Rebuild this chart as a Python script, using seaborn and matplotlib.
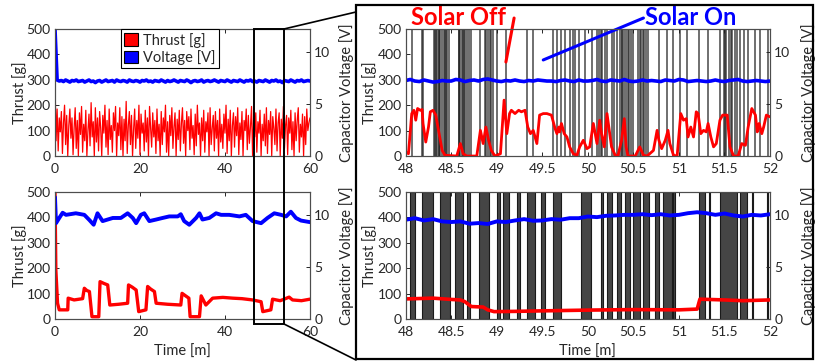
import numpy as np
import matplotlib
matplotlib.use("Agg")
import matplotlib.pyplot as plt
import seaborn as sns
from matplotlib.patches import Rectangle, Patch
from matplotlib.lines import Line2D

# ---- top left: solar off, full 60 min (thrust sampled every 0.25 min, voltage every 0.5 min)
tl_thrust_step = 0.25
tl_thrust = [
    300, 60, 185, 20, 150, 95, 175, 10, 130, 200, 45, 160, 0, 120, 185, 70, 150, 5, 110, 190,
    30, 140, 0, 170, 85, 195, 15, 125, 60, 180, 0, 100, 165, 40, 210, 75, 135, 0, 190, 55,
    150, 20, 175, 110, 0, 160, 90, 200, 35, 140, 5, 185, 65, 120, 15, 170, 100, 195, 0, 130,
    80, 190, 25, 155, 0, 145, 60, 215, 10, 120, 175, 45, 160, 0, 105, 185, 30, 140, 70, 200,
    5, 165, 90, 130, 20, 180, 55, 150, 0, 195, 110, 35, 170, 75, 140, 10, 185, 60, 125, 0,
    175, 45, 150, 95, 200, 15, 135, 0, 160, 80, 190, 30, 115, 170, 0, 145, 65, 180, 20, 130,
    190, 50, 140, 0, 175, 100, 155, 25, 185, 70, 120, 5, 165, 40, 200, 85, 130, 0, 150, 60,
    180, 15, 135, 95, 170, 0, 190, 45, 110, 160, 20, 175, 70, 140, 0, 185, 55, 125, 30, 165,
    90, 200, 10, 145, 60, 180, 0, 120, 170, 35, 155, 80, 190, 5, 130, 65, 175, 0, 140, 100,
    185, 25, 160, 50, 115, 195, 0, 150, 75, 170, 15, 135, 90, 180, 0, 125, 60, 165, 40, 190,
    10, 140, 85, 175, 0, 155, 110, 45, 185, 20, 130, 170, 0, 145, 70, 195, 30, 120, 160, 5,
    150, 90, 180, 25, 135, 0, 170, 60, 140, 190, 15, 125, 75, 165, 0, 155, 45, 185, 100, 130,
    150,
]
tl_volt_step = 0.5
tl_volt = [
    12.2, 7.3, 7.2, 7.25, 7.15, 7.3, 7.2, 7.1, 7.25, 7.2, 7.3, 7.15, 7.2, 7.25, 7.1, 7.2, 7.3, 7.15, 7.2, 7.05,
    7.2, 7.25, 7.1, 7.2, 7.3, 7.15, 7.2, 7.25, 7.1, 7.3, 7.2, 7.15, 7.25, 7.2, 7.1, 7.3, 7.2, 7.15, 7.25, 7.2,
    7.1, 7.25, 7.2, 7.3, 7.15, 7.2, 7.1, 7.25, 7.2, 7.15, 7.3, 7.2, 7.1, 7.25, 7.15, 7.2, 7.3, 7.2, 7.1, 7.25,
    7.2, 7.15, 7.3, 7.2, 7.05, 7.2, 7.25, 7.15, 7.2, 7.3, 7.1, 7.2, 7.25, 7.15, 7.2, 7.3, 7.2, 7.1, 7.25, 7.2,
    7.15, 7.3, 7.2, 7.1, 7.25, 7.2, 7.15, 7.3, 7.2, 7.1, 7.25, 7.2, 7.3, 7.15, 7.2, 7.1, 7.25, 7.2, 7.15, 7.3,
    7.2, 7.1, 7.25, 7.2, 7.3, 7.15, 7.2, 7.05, 7.25, 7.2, 7.15, 7.3, 7.2, 7.1, 7.25, 7.2, 7.3, 7.15, 7.2, 7.25,
    7.2,
]

# ---- bottom left: solar on, full 60 min
bl_thrust_t = [0, 0.2, 0.6, 1.0, 3.0, 3.1, 4.5, 6.5, 6.9, 7.5, 8.1, 8.7, 10.3, 10.6, 11.5,
               12.4, 12.9, 15.0, 17.1, 17.3, 18.2, 19.1, 19.7, 21.4, 21.8, 22.5, 23.4, 23.8, 26.5, 29.6,
               29.9, 31.5, 31.8, 34.0, 34.4, 35.5, 37.1, 39.5, 41.8, 44.0, 46.5, 48.5, 48.9, 50.8, 51.2,
               53.0, 55.1, 55.9, 58.0, 60.0]
bl_thrust = [500, 193, 62, 36, 36, 82, 75, 80, 121, 112, 108, 9, 9, 147, 140,
             134, 55, 58, 62, 134, 125, 114, 29, 36, 128, 118, 108, 62, 58, 55,
             101, 82, 9, 9, 91, 55, 82, 85, 82, 80, 75, 68, 29, 36, 78,
             72, 86, 75, 72, 78]
bl_volt_t = [0, 0.24, 1.0, 1.8, 2.6, 4.9, 6.9, 8.1, 9.1, 10.0, 11.2, 12.4, 13.6, 15.5, 17.1,
             18.3, 19.1, 20.2, 21.0, 22.2, 23.8, 25.3, 26.9, 28.9, 29.6, 30.4, 31.6, 33.2, 34.0, 34.7,
             36.3, 37.9, 39.1, 41.0, 43.4, 44.9, 46.5, 48.5, 50.0, 51.6, 53.2, 54.4, 55.5, 56.7, 57.9, 60.0]
bl_volt = [11.7, 9.2, 9.7, 10.2, 10.0, 10.15, 10.0, 9.5, 9.05, 10.15, 9.4, 9.55, 9.7, 9.7, 10.15,
           9.7, 9.2, 10.0, 10.15, 9.4, 9.55, 9.7, 9.85, 9.85, 10.06, 9.4, 9.05, 9.7, 10.15, 9.55,
           9.7, 10.15, 10.0, 10.0, 9.85, 10.0, 9.4, 9.2, 9.7, 10.15, 10.0, 9.85, 10.3, 9.7, 9.45, 9.3]

# ---- top right: solar off, zoom 48-52 min
tr_thrust_t = [48.00, 48.03, 48.066, 48.09, 48.11, 48.13, 48.16, 48.18, 48.19, 48.22, 48.25, 48.27,
               48.30, 48.33, 48.36, 48.40, 48.43, 48.56, 48.60, 48.63, 48.67, 48.78, 48.82, 48.85,
               48.88, 48.91, 48.94, 48.98, 49.04, 49.08, 49.11, 49.14, 49.16, 49.20, 49.24, 49.27,
               49.31, 49.34, 49.37, 49.40, 49.44, 49.47, 49.51, 49.55, 49.60, 49.64, 49.66, 49.68,
               49.69, 49.71, 49.74, 49.77, 49.80, 49.84, 49.88, 49.91, 49.95, 49.99, 50.02, 50.06,
               50.10, 50.13, 50.15, 50.18, 50.21, 50.24, 50.26, 50.30, 50.33, 50.37, 50.40, 50.42,
               50.44, 50.52, 50.57, 50.61, 50.65, 50.72, 50.76, 50.78, 50.81, 50.85, 50.88, 50.90,
               50.94, 50.98, 51.02, 51.05, 51.08, 51.10, 51.13, 51.16, 51.19, 51.21, 51.24, 51.27,
               51.30, 51.32, 51.35, 51.38, 51.41, 51.45, 51.48, 51.51, 51.53, 51.56, 51.60, 51.65,
               51.69, 51.73, 51.76, 51.80, 51.84, 51.86, 51.88, 51.91, 51.93, 51.96, 52.00]
tr_thrust = [16, 9, 167, 180, 141, 187, 180, 183, 128, 55, 114, 174,
             180, 161, 101, 22, 3, 0, 49, 9, 0, 0, 101, 49,
             114, 62, 22, 0, 9, 220, 88, 167, 180, 167, 180, 174,
             180, 114, 88, 101, 49, 161, 167, 167, 161, 108, 88, 114,
             95, 128, 88, 75, 36, 9, 3, 36, 62, 29, 36, 128,
             49, 141, 88, 36, 167, 88, 36, 3, 0, 62, 147, 36,
             0, 0, 36, 3, 0, 22, 101, 62, 29, 62, 101, 49,
             3, 0, 167, 141, 147, 75, 114, 75, 174, 167, 88, 101,
             95, 128, 75, 36, 49, 141, 161, 161, 161, 36, 0, 0,
             49, 42, 114, 187, 161, 95, 128, 88, 114, 161, 154]
tr_volt_step = 0.05
tr_volt = [
    7.25, 7.35, 7.2, 7.15, 7.3, 7.2, 7.1, 7.15, 7.25, 7.2, 7.2, 7.35, 7.3, 7.15, 7.25, 7.3, 7.2, 7.35, 7.4, 7.3,
    7.2, 7.15, 7.25, 7.2, 7.3, 7.2, 7.15, 7.25, 7.2, 7.3, 7.25, 7.2, 7.2, 7.15, 7.25, 7.3, 7.2, 7.15, 7.3, 7.2,
    7.2, 7.25, 7.35, 7.2, 7.15, 7.3, 7.25, 7.2, 7.35, 7.2, 7.15, 7.2, 7.3, 7.2, 7.25, 7.2, 7.15, 7.3, 7.25, 7.2,
    7.35, 7.3, 7.15, 7.2, 7.25, 7.2, 7.15, 7.2, 7.3, 7.2, 7.15, 7.25, 7.3, 7.35, 7.2, 7.15, 7.2, 7.25, 7.2, 7.15,
    7.2,
]
# switching events (solar off)
tr_events = [48.066, 48.176, 48.19, 48.31, 48.32, 48.33, 48.345, 48.36, 48.37, 48.38, 48.40, 48.415,
             48.43, 48.44, 48.45, 48.47, 48.58, 48.59, 48.60, 48.615, 48.63, 48.64, 48.65, 48.67,
             48.69, 48.72, 48.82, 48.87, 48.885, 48.90, 48.92, 48.94, 48.96, 49.0, 49.10, 49.33,
             49.40, 49.62, 49.66, 49.71, 49.75, 49.80, 49.84, 49.86, 49.90, 49.97, 50.04, 50.10,
             50.12, 50.14, 50.16, 50.19, 50.21, 50.26, 50.29, 50.32, 50.35, 50.37, 50.38, 50.40,
             50.42, 50.44, 50.45, 50.47, 50.50, 50.55, 50.57, 50.58, 50.60, 50.62, 50.64, 50.66,
             50.78, 50.87, 50.94, 51.01, 51.09, 51.22, 51.32, 51.45, 51.49, 51.51, 51.52, 51.55,
             51.57, 51.58, 51.61, 51.64, 51.67, 51.71, 51.76, 51.84, 51.89, 51.98]

# ---- bottom right: solar on, zoom 48-52 min
br_thrust_t = [48.0, 48.3, 48.5, 48.6, 48.65, 48.72, 48.85, 48.9, 48.97, 49.2, 49.5, 50.0,
               50.5, 51.0, 51.2, 51.23, 51.5, 51.7, 52.0]
br_thrust = [79, 82, 77, 75, 68, 49, 47, 36, 29, 30, 32, 35, 37, 36, 39, 78, 75, 72, 75]
br_volt_t = [48.0, 48.1, 48.2, 48.3, 48.4, 48.5, 48.6, 48.7, 48.8, 48.9, 49.0, 49.1, 49.2, 49.3,
             49.4, 49.5, 49.6, 49.7, 49.8, 49.9, 50.0, 50.1, 50.2, 50.3, 50.4, 50.5, 50.6, 50.7,
             50.8, 50.9, 51.0, 51.1, 51.2, 51.3, 51.4, 51.5, 51.6, 51.7, 51.8, 51.9, 52.0]
br_volt = [9.53, 9.68, 9.46, 9.59, 9.37, 9.31, 9.37, 9.15, 9.21, 9.12, 9.37, 9.31, 9.46, 9.59,
           9.43, 9.46, 9.59, 9.53, 9.68, 9.68, 9.84, 9.78, 9.91, 9.94, 10.0, 10.0, 10.06, 9.97,
           10.06, 9.94, 10.0, 10.16, 10.25, 10.16, 10.0, 10.13, 9.94, 9.84, 10.0, 9.94, 10.06]
br_on_start = [48.047, 48.176, 48.38, 48.54, 48.67, 48.80, 49.0, 49.07, 49.22, 49.33, 49.48, 49.62,
               49.93, 50.14, 50.21, 50.32, 50.41, 50.50, 50.61, 50.74, 50.83, 50.94, 51.22, 51.33,
               51.45, 51.67, 51.80, 51.97]
br_on_end = [48.10, 48.30, 48.49, 48.63, 48.71, 48.91, 49.04, 49.13, 49.26, 49.42, 49.53, 49.70,
             50.03, 50.17, 50.26, 50.36, 50.46, 50.57, 50.67, 50.78, 50.92, 50.96, 51.29, 51.34,
             51.64, 51.75, 51.81, 51.98]

full_ticks = [0, 20, 40, 60]
zoom_ticks = [48, 48.5, 49, 49.5, 50, 50.5, 51, 51.5, 52]
zoom_labels = ['48', '48.5', '49', '49.5', '50', '50.5', '51', '51.5', '52']
thrust_ticks = [0, 100, 200, 300, 400, 500]
volt_ticks = [0, 5, 10]

RED = '#ff0000'
BLUE = '#0000ff'
INK = '#262626'


def style_panel(ax, ax2, xlim, xticks, xlabels, rpad):
    ax.set_xlim(*xlim)
    ax.set_ylim(0, 500)
    ax2.set_ylim(0, 12.2)
    ax.set_xticks(xticks, xlabels)
    ax.set_yticks(thrust_ticks)
    ax2.set_yticks(volt_ticks)
    ax.tick_params(direction='in', length=3, width=0.7, top=True, right=False,
                   labelsize=10, colors=INK, pad=3)
    ax.tick_params(axis='x', pad=5)
    ax2.tick_params(direction='in', length=3, width=0.7, labelsize=10, colors=INK, pad=3)
    ax.set_ylabel('Thrust [g]', fontsize=10.5, color=INK, labelpad=0)
    ax2.set_ylabel('Capacitor Voltage [V]', fontsize=10.5, color=INK, labelpad=rpad)
    ax.set_xlabel('')
    for a in (ax, ax2):
        for s in a.spines.values():
            s.set_color('#4d4d4d')
            s.set_linewidth(0.8)


def main():
    sns.set_style("ticks")
    plt.rcParams['font.family'] = ['Lato', 'DejaVu Sans']
    fig = plt.figure(figsize=(8.27, 3.62), dpi=100)

    ax_tl = fig.add_axes([0.0665, 0.569, 0.3083, 0.351])
    ax_bl = fig.add_axes([0.0665, 0.1188, 0.3083, 0.351])
    ax_tr = fig.add_axes([0.4906, 0.569, 0.4405, 0.351])
    ax_br = fig.add_axes([0.4906, 0.1188, 0.4405, 0.351])
    tw_tl, tw_bl, tw_tr, tw_br = ax_tl.twinx(), ax_bl.twinx(), ax_tr.twinx(), ax_br.twinx()

    # top left
    t = np.arange(len(tl_thrust)) * tl_thrust_step
    sns.lineplot(x=t, y=tl_thrust, ax=ax_tl, color=RED, linewidth=0.9, legend=False)
    tv = np.arange(len(tl_volt)) * tl_volt_step
    sns.lineplot(x=tv, y=tl_volt, ax=tw_tl, color=BLUE, linewidth=2.6, legend=False)
    style_panel(ax_tl, tw_tl, (0, 60), full_ticks, [str(v) for v in full_ticks], 6)
    tw_tl.legend(handles=[Patch(fc=RED, ec='black', lw=0.8, label='Thrust [g]'),
                          Patch(fc=BLUE, ec='black', lw=0.8, label='Voltage [V]')],
                 loc='upper left', bbox_to_anchor=(0.258, 1.0), borderaxespad=0,
                 fancybox=False, edgecolor='black', framealpha=1, fontsize=10.5,
                 handlelength=0.9, handleheight=0.9, handletextpad=0.35,
                 borderpad=0.25, labelspacing=0.15)
    tw_tl.get_legend().get_frame().set_linewidth(0.8)

    # bottom left
    sns.lineplot(x=bl_thrust_t, y=bl_thrust, ax=ax_bl, color=RED, linewidth=2.4, legend=False)
    sns.lineplot(x=bl_volt_t, y=bl_volt, ax=tw_bl, color=BLUE, linewidth=2.8, legend=False)
    style_panel(ax_bl, tw_bl, (0, 60), full_ticks, [str(v) for v in full_ticks], 6)
    ax_bl.set_xlabel('Time [m]', fontsize=10.5, color=INK, labelpad=5)

    # top right
    for x in tr_events:
        ax_tr.axvline(x, color='#1f1f1f', linewidth=1.2, alpha=0.75, zorder=1)
    sns.lineplot(x=tr_thrust_t, y=tr_thrust, ax=ax_tr, color=RED, linewidth=2.0, legend=False, zorder=3)
    tv = 48 + np.arange(len(tr_volt)) * tr_volt_step
    sns.lineplot(x=tv, y=tr_volt, ax=tw_tr, color=BLUE, linewidth=2.6, legend=False)
    style_panel(ax_tr, tw_tr, (48, 52), zoom_ticks, zoom_labels, 8)

    ax_tr.text(48.58, 545, 'Solar Off', color=RED, fontsize=17, fontweight='bold',
               ha='center', va='center', clip_on=False)
    ax_tr.text(51.13, 545, 'Solar On', color=BLUE, fontsize=17, fontweight='bold',
               ha='center', va='center', clip_on=False)
    ax_tr.plot([49.19, 49.10], [543, 370], color=RED, linewidth=2.2, clip_on=False, zorder=5)
    ax_tr.plot([50.61, 49.51], [543, 378], color=BLUE, linewidth=2.2, clip_on=False, zorder=5)

    # bottom right
    for a, b in zip(br_on_start, br_on_end):
        ax_br.axvspan(a, b, facecolor='#454545', edgecolor='#1a1a1a', linewidth=0.8, zorder=1)
    sns.lineplot(x=br_thrust_t, y=br_thrust, ax=ax_br, color=RED, linewidth=2.6, legend=False, zorder=3)
    sns.lineplot(x=br_volt_t, y=br_volt, ax=tw_br, color=BLUE, linewidth=2.8, legend=False)
    style_panel(ax_br, tw_br, (48, 52), zoom_ticks, zoom_labels, 8)
    ax_br.set_xlabel('Time [m]', fontsize=10.5, color=INK, labelpad=5)

    # zoom window, connectors and the frame around the zoomed panels
    fig.add_artist(Rectangle((0.3075, 0.105), 0.0359, 0.815, transform=fig.transFigure,
                             fill=False, edgecolor='black', linewidth=1.4))
    fig.add_artist(Line2D([0.3434, 0.4305], [0.9199, 0.9669], transform=fig.transFigure,
                          color='black', linewidth=1.2))
    fig.add_artist(Line2D([0.3434, 0.4305], [0.105, 0.0055], transform=fig.transFigure,
                          color='black', linewidth=1.2))
    fig.add_artist(Rectangle((0.4305, 0.0083), 0.5526, 0.978, transform=fig.transFigure,
                             fill=False, edgecolor='black', linewidth=1.6))

    fig.savefig("out.png", dpi=100)


if __name__ == "__main__":
    main()
